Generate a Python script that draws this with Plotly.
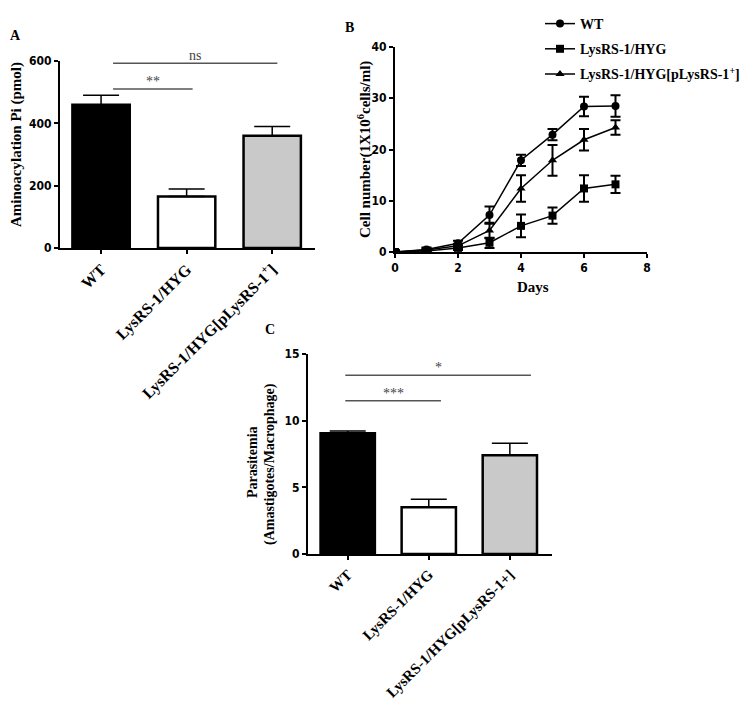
import plotly.graph_objects as go

# the page body has an 8px margin; the figure is shifted so that
# screen coordinates match the reference
OFF = 8
W, H = 750 - OFF, 705 - OFF

# ---------- Data ----------
groups_A = ["WT", "LysRS-1/HYG", "LysRS-1/HYG[pLysRS-1<sup>+</sup>]"]
amino_vals = [460, 165, 360]
amino_err = [30, 24, 30]

days = [0, 1, 2, 3, 4, 5, 6, 7]
wt_cells = [0, 0.5, 1.7, 7.2, 17.9, 22.9, 28.4, 28.5]
wt_err = [0.3, 0.4, 0.5, 1.7, 1.1, 1.1, 1.9, 2.1]
hyg_cells = [0, 0.2, 0.8, 1.8, 5.1, 7.1, 12.4, 13.2]
hyg_err = [0.3, 0.3, 0.4, 1.0, 2.2, 1.6, 2.6, 1.7]
comp_cells = [0, 0.4, 1.2, 4.2, 12.4, 17.9, 21.9, 24.3]
comp_err = [0.3, 0.3, 0.4, 1.5, 2.6, 3.0, 2.1, 1.4]

groups_C = ["WT", "LysRS-1/HYG", "LysRS-1/HYG[pLysRS-1+]"]
para_vals = [9.05, 3.5, 7.4]
para_err = [0.17, 0.6, 0.9]

bar_colors = ["#000000", "#ffffff", "#c9c9c9"]

SERIF = "Liberation Serif, Times New Roman, serif"
NARROW = "DejaVu Sans Condensed, Liberation Sans Narrow, Arial Narrow, sans-serif"

def px_x(p):
    return (p - OFF) / W

def px_y(p):
    return 1 - (p - OFF) / H

fig = go.Figure()

# ---------- Panel A ----------
fig.add_trace(go.Bar(
    x=[0, 1, 2], y=amino_vals, width=0.67,
    marker=dict(color=bar_colors, line=dict(color="black", width=2.5)),
    error_y=dict(type="data", symmetric=False, array=amino_err, arrayminus=[0, 0, 0],
                 color="black", thickness=1.5, width=18),
    xaxis="x", yaxis="y", showlegend=False))

# ---------- Panel B ----------
series_B = [
    ("WT", wt_cells, wt_err, "circle"),
    ("LysRS-1/HYG", hyg_cells, hyg_err, "square"),
    ("LysRS-1/HYG[pLysRS-1<sup>+</sup>]", comp_cells, comp_err, "triangle-up"),
]
for i, (name, vals, err, sym) in enumerate(series_B):
    fig.add_trace(go.Scatter(
        x=days, y=vals, name=name, mode="lines+markers",
        line=dict(color="black", width=1.5),
        marker=dict(symbol=sym, size=8, color="black"),
        error_y=dict(type="data", array=err, color="black", thickness=2, width=5),
        xaxis="x2", yaxis="y2", legendgroup=f"g{i}"))

# ---------- Panel C ----------
fig.add_trace(go.Bar(
    x=[0, 1, 2], y=para_vals, width=0.67,
    marker=dict(color=bar_colors, line=dict(color="black", width=2.5)),
    error_y=dict(type="data", symmetric=False, array=para_err, arrayminus=[0, 0, 0],
                 color="black", thickness=1.5, width=18),
    xaxis="x3", yaxis="y3", showlegend=False))

axis_common = dict(showline=True, linewidth=2, linecolor="black", ticks="outside",
                   ticklen=4, tickwidth=2, tickcolor="black", showgrid=False,
                   zeroline=False, automargin=False)
num_font = dict(family=NARROW, size=12, color="black", weight="bold")
cat_font_A = dict(family=SERIF, size=16, color="black", weight="bold")
cat_font_C = dict(family=SERIF, size=15, color="black", weight="bold")

fig.update_layout(
    width=W, height=H, margin=dict(l=0, r=0, t=0, b=0, pad=0, autoexpand=False),
    paper_bgcolor="white", plot_bgcolor="white",
    xaxis=dict(domain=[px_x(60), px_x(315)], range=[-0.48, 2.5], anchor="y",
               tickvals=[0, 1, 2], ticktext=groups_A, tickangle=-45,
               tickfont=cat_font_A, **axis_common),
    yaxis=dict(domain=[px_y(248), px_y(61)], range=[0, 600], anchor="x",
               tickvals=[0, 200, 400, 600], tickfont=num_font, **axis_common),
    xaxis2=dict(domain=[px_x(395), px_x(647)], range=[0, 8], anchor="y2",
                tickvals=[0, 2, 4, 6, 8], tickfont=num_font, **axis_common),
    yaxis2=dict(domain=[px_y(252), px_y(47)], range=[0, 40], anchor="x2",
                tickvals=[0, 10, 20, 30, 40], tickfont=num_font, **axis_common),
    xaxis3=dict(domain=[px_x(308), px_x(552)], range=[-0.49, 2.52], anchor="y3",
                tickvals=[0, 1, 2], ticktext=groups_C, tickangle=-45,
                tickfont=cat_font_C, **axis_common),
    yaxis3=dict(domain=[px_y(554), px_y(354)], range=[0, 15], anchor="x3",
                tickvals=[0, 5, 10, 15], tickfont=num_font, **axis_common),
    legend=dict(x=px_x(540), y=1, xanchor="left", yanchor="top",
                font=dict(family=SERIF, size=14, color="black", weight="bold"),
                tracegroupgap=4, bgcolor="rgba(0,0,0,0)"),
)

# ---------- significance bars ----------
sig_color = "#555555"
def sig(xref, yref, x0, x1, yv, text):
    fig.add_shape(type="line", xref=xref, yref=yref, x0=x0, x1=x1, y0=yv, y1=yv,
                  line=dict(color=sig_color, width=1.5))
    fig.add_annotation(xref=xref, yref=yref, x=(x0 + x1) / 2, y=yv, text=text,
                       showarrow=False, yanchor="bottom", yshift=-2,
                       font=dict(family=SERIF, size=14, color="#444444"))

sig("x", "y", 0.14, 1.07, 510, "**")
sig("x", "y", 0.14, 2.06, 593, "ns")
sig("x3", "y3", -0.03, 1.15, 11.5, "***")
sig("x3", "y3", -0.03, 2.26, 13.4, "*")

# ---------- titles / panel labels ----------
def ann(x, y, text, size=15, angle=0):
    fig.add_annotation(xref="paper", yref="paper", x=px_x(x), y=px_y(y), text=text,
                       showarrow=False, textangle=angle, xanchor="center", yanchor="middle",
                       font=dict(family=SERIF, size=size, color="black", weight="bold"))

ann(17, 145, "Aminoacylation Pi (pmol)", 15, -90)
ann(364, 150, "Cell number(1X10<sup>6</sup>cells/ml)", 15, -90)
ann(533, 287, "Days", 15)
ann(252, 462, "Parasitemia", 14, -90)
ann(270, 464, "(Amastigotes/Macrophage)", 14, -90)
ann(15, 36, "A", 14)
ann(349, 28, "B", 14)
ann(270, 330, "C", 14)

fig.write_html("out.html")
